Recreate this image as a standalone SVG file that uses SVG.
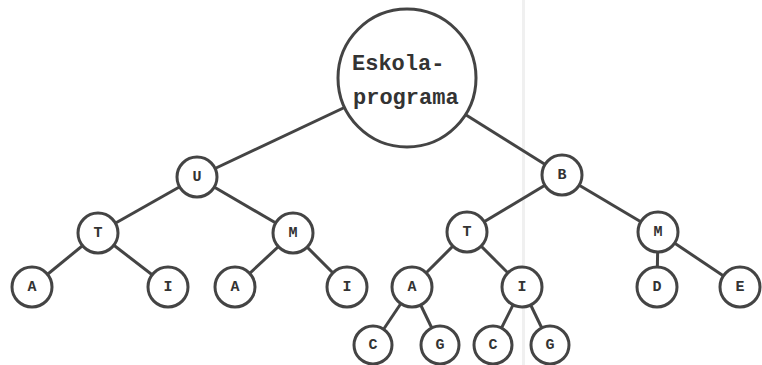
<svg xmlns="http://www.w3.org/2000/svg" width="762" height="365" viewBox="0 0 762 365">
<style>
.n{fill:#fff;stroke:#444;stroke-width:3}
.e{stroke:#444;stroke-width:3;fill:none}
.t{font-family:"Liberation Mono","DejaVu Sans Mono",monospace;font-weight:bold;fill:#333;text-anchor:middle;dominant-baseline:central}
.s{font-size:15px}
.b{font-size:22px;text-anchor:start}
</style>
<rect x="0" y="0" width="762" height="365" fill="#fff"/>
<rect x="522" y="0" width="3" height="365" fill="#f0f0f0"/>
<g id="connectors">
<line class="e" x1="407" y1="78" x2="197" y2="177"/>
<line class="e" x1="407" y1="78" x2="562" y2="175"/>
<line class="e" x1="197" y1="177" x2="98" y2="233"/>
<line class="e" x1="197" y1="177" x2="293" y2="233"/>
<line class="e" x1="98" y1="233" x2="32" y2="287"/>
<line class="e" x1="98" y1="233" x2="168" y2="287"/>
<line class="e" x1="293" y1="233" x2="235" y2="287"/>
<line class="e" x1="293" y1="233" x2="347" y2="287"/>
<line class="e" x1="562" y1="175" x2="467" y2="232"/>
<line class="e" x1="562" y1="175" x2="658" y2="232"/>
<line class="e" x1="467" y1="232" x2="412" y2="287"/>
<line class="e" x1="467" y1="232" x2="522" y2="287"/>
<line class="e" x1="658" y1="232" x2="657" y2="287"/>
<line class="e" x1="658" y1="232" x2="740" y2="287"/>
<line class="e" x1="412" y1="287" x2="373" y2="345"/>
<line class="e" x1="412" y1="287" x2="440" y2="345"/>
<line class="e" x1="522" y1="287" x2="493" y2="345"/>
<line class="e" x1="522" y1="287" x2="550" y2="345"/>
</g>
<g id="root"><circle class="n" cx="407" cy="78" r="69"/><text class="t b" x="352" y="64">Eskola-</text><text class="t b" x="353" y="98">programa</text></g>
<g id="U"><circle class="n" cx="197" cy="177" r="20"/><text class="t s" x="197" y="177">U</text></g>
<g id="T1"><circle class="n" cx="98" cy="233" r="20"/><text class="t s" x="98" y="233">T</text></g>
<g id="M1"><circle class="n" cx="293" cy="233" r="20"/><text class="t s" x="293" y="233">M</text></g>
<g id="A1"><circle class="n" cx="32" cy="287" r="20"/><text class="t s" x="32" y="287">A</text></g>
<g id="I1"><circle class="n" cx="168" cy="287" r="20"/><text class="t s" x="168" y="287">I</text></g>
<g id="A2"><circle class="n" cx="235" cy="287" r="20"/><text class="t s" x="235" y="287">A</text></g>
<g id="I2"><circle class="n" cx="347" cy="287" r="20"/><text class="t s" x="347" y="287">I</text></g>
<g id="B"><circle class="n" cx="562" cy="175" r="20"/><text class="t s" x="562" y="175">B</text></g>
<g id="T2"><circle class="n" cx="467" cy="232" r="20"/><text class="t s" x="467" y="232">T</text></g>
<g id="M2"><circle class="n" cx="658" cy="232" r="20"/><text class="t s" x="658" y="232">M</text></g>
<g id="A3"><circle class="n" cx="412" cy="287" r="20"/><text class="t s" x="412" y="287">A</text></g>
<g id="I3"><circle class="n" cx="522" cy="287" r="20"/><text class="t s" x="522" y="287">I</text></g>
<g id="D"><circle class="n" cx="657" cy="287" r="20"/><text class="t s" x="657" y="287">D</text></g>
<g id="E"><circle class="n" cx="740" cy="287" r="20"/><text class="t s" x="740" y="287">E</text></g>
<g id="C1"><circle class="n" cx="373" cy="345" r="19"/><text class="t s" x="373" y="345">C</text></g>
<g id="G1"><circle class="n" cx="440" cy="345" r="19"/><text class="t s" x="440" y="345">G</text></g>
<g id="C2"><circle class="n" cx="493" cy="345" r="19"/><text class="t s" x="493" y="345">C</text></g>
<g id="G2"><circle class="n" cx="550" cy="345" r="19"/><text class="t s" x="550" y="345">G</text></g>
</svg>
